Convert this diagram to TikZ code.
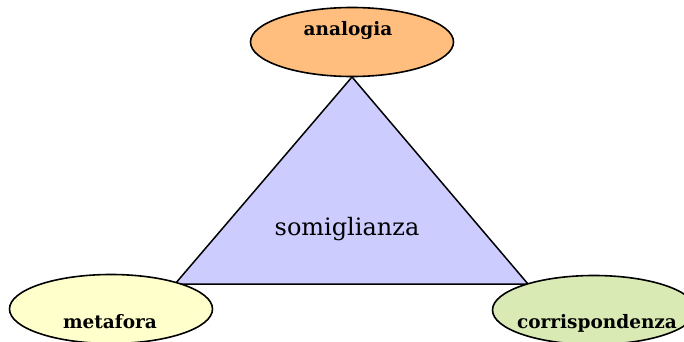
\documentclass[tikz,border=0pt]{standalone}
\usepackage{fontspec}
\setmainfont{DejaVu Serif}
\usetikzlibrary{shapes.geometric}
\definecolor{orangefill}{RGB}{255,190,125}
\definecolor{yellowfill}{RGB}{255,255,204}
\definecolor{greenfill}{RGB}{217,234,181}
\definecolor{trifill}{RGB}{204,204,255}
\tikzset{
  oval/.style={ellipse, draw=black, line width=1.6pt, minimum width=203pt, minimum height=69pt, inner sep=0pt},
  ovallabel/.style={font=\fontsize{18.5}{20}\selectfont\bfseries, anchor=base, inner sep=0pt},
  tri/.style={draw=black, line width=1.5pt, fill=trifill, line join=miter}
}
\begin{document}
\begin{tikzpicture}[x=1pt,y=-1pt]
\clip (0,0) rectangle (684,342);
\fill[white] (0,0) rectangle (684,342);
\coordinate (apex) at (352,77);
\coordinate (bl) at (175,284);
\coordinate (br) at (528,284);
\draw[tri] (apex) -- (br) -- (bl) -- cycle;
\node[font=\fontsize{24}{26}\selectfont, anchor=base, inner sep=0pt] (som) at (347,235) {somiglianza};
\node[oval, fill=orangefill] (ana) at (352,42) {};
\node[ovallabel] (analab) at (348,36) {analogia};
\node[oval, fill=yellowfill] (met) at (111,309) {};
\node[ovallabel] (metlab) at (110,328) {metafora};
\node[oval, fill=greenfill] (cor) at (594,310) {};
\node[ovallabel] (corlab) at (597,328) {corrispondenza};
\end{tikzpicture}
\end{document}
